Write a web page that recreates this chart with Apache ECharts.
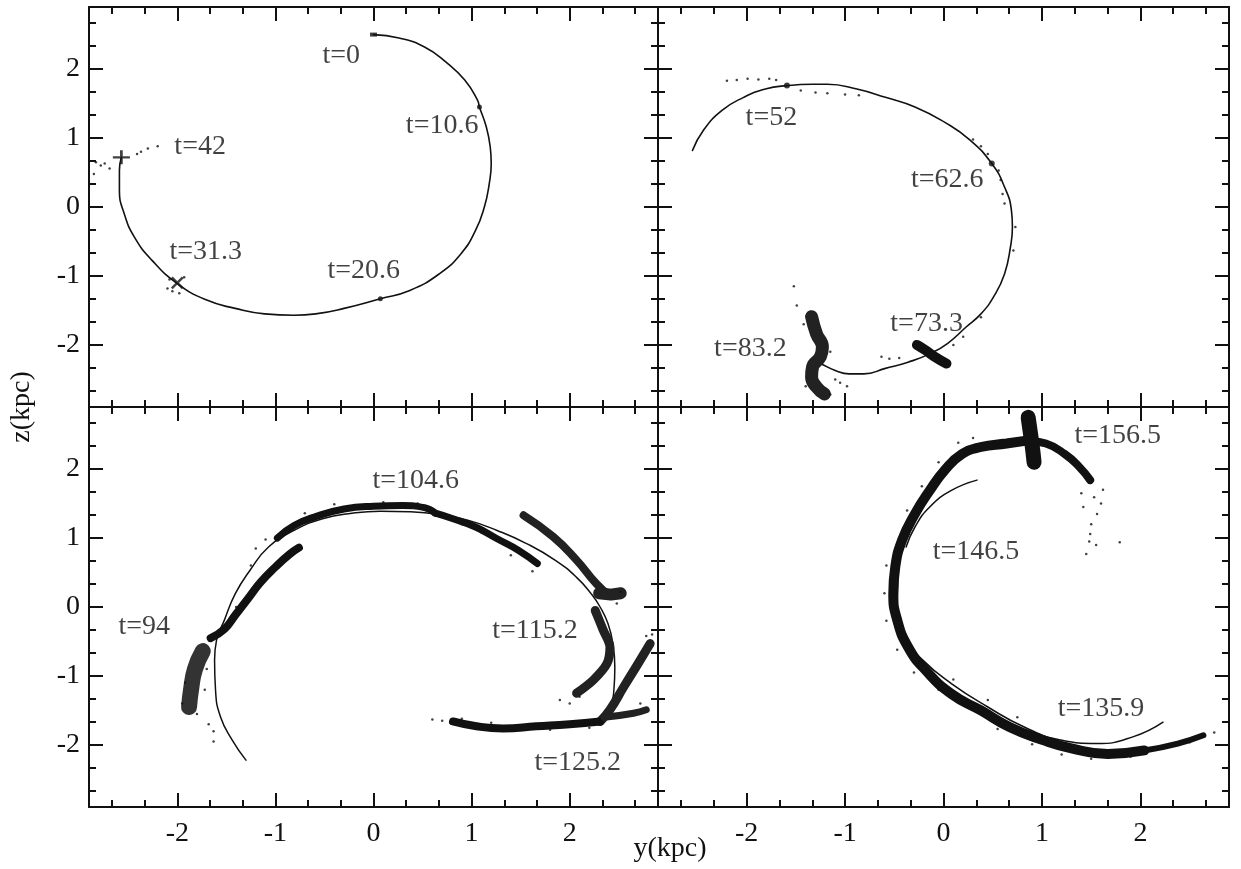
<!DOCTYPE html>
<html><head><meta charset="utf-8">
<script src="https://cdn.jsdelivr.net/npm/echarts@6/dist/echarts.min.js"></script>
<style>html,body{margin:0;padding:0;background:#fff}#c{width:1241px;height:869px}</style>
</head><body><div id="c"></div>
<script>
// ---------- tick labels / tick positions ----------
const majorTicks = [-2, -1, 0, 1, 2];
const minorTicks = [-2.667, -2.333, -1.667, -1.333, -0.667, -0.333, 0.333, 0.667, 1.333, 1.667, 2.333, 2.667];
const axisNameX = 'y(kpc)';
const axisNameY = 'z(kpc)';

// ---------- panel 1 (t = 0 .. 42) ----------
const orbit1 = [[0,2.50],[0.26,2.45],[0.52,2.32],[0.74,2.10],[0.93,1.84],[1.06,1.55],[1.08,1.45],[1.15,1.16],[1.19,0.87],[1.20,0.63],[1.18,0.34],[1.13,0],[1.04,-0.34],[0.89,-0.68],[0.67,-0.97],[0.37,-1.21],[0.07,-1.33],[-0.30,-1.47],[-0.59,-1.55],[-0.81,-1.57],[-1.11,-1.55],[-1.41,-1.47],[-1.70,-1.35],[-2.00,-1.11],[-2.26,-0.77],[-2.44,-0.43],[-2.54,-0.10],[-2.59,0.24],[-2.59,0.53],[-2.57,0.72]];
const dots1 = [[-2.83,0.65],[-2.74,0.63],[-2.69,0.56],[-2.85,0.48],[-2.78,0.60],[-2.41,0.77],[-2.37,0.80],[-2.30,0.85],[-2.20,0.88],[-2.05,-1.22],[-1.98,-1.25],[-1.93,-1.02],[-2.08,-1.05],[-2.10,-1.18]];
const markDots1 = [[1.08,1.45],[0.07,-1.33]];
const startMark1 = [[0,2.50]];
const crossMark1 = [[-2.0,-1.10]];
const plusMark1 = [[-2.57,0.72]];
const labels1 = [['t=0',-0.52,2.20],['t=10.6',0.33,1.18],['t=42',-2.03,0.87],['t=31.3',-2.08,-0.65],['t=20.6',-0.47,-0.92]];

// ---------- panel 2 (t = 52 .. 83.2) ----------
const orbit2 = [[-2.55,0.82],[-2.44,1.11],[-2.25,1.40],[-2.03,1.59],[-1.81,1.71],[-1.59,1.76],[-1.33,1.78],[-1.18,1.78],[-0.88,1.71],[-0.59,1.59],[-0.29,1.45],[0.01,1.23],[0.27,0.97],[0.49,0.63],[0.62,0.29],[0.69,-0.05],[0.70,-0.29],[0.68,-0.58],[0.62,-0.97],[0.51,-1.30],[0.38,-1.55],[0.23,-1.74],[0.04,-1.98],[-0.14,-2.13],[-0.36,-2.25],[-0.59,-2.34],[-0.81,-2.42],[-0.96,-2.42],[-1.10,-2.37],[-1.25,-2.27],[-1.33,-2.22]];
const blob73 = [[-0.27,-2.00],[-0.18,-2.08],[-0.09,-2.17],[0.03,-2.27]];
const blob83 = [[-1.34,-1.59],[-1.29,-1.84],[-1.23,-2.03],[-1.25,-2.17],[-1.33,-2.32],[-1.34,-2.46],[-1.29,-2.61],[-1.21,-2.71]];
const dots2 = [[-2.20,1.83],[-2.10,1.84],[-1.99,1.86],[-1.88,1.85],[-1.77,1.86],[-1.70,1.84],[-1.45,1.69],[-1.30,1.66],[-1.18,1.65],[-1.00,1.63],[-0.86,1.62],[0.30,0.98],[0.38,0.88],[0.45,0.77],[0.56,0.53],[0.58,0.39],[0.60,0.19],[0.62,0.05],[0.73,-0.29],[0.71,-0.63],[-1.52,-1.15],[-1.49,-1.43],[-0.63,-2.17],[-0.55,-2.20],[-0.45,-2.19],[0.10,-2.00],[0.20,-1.88],[0.38,-1.60],[-1.05,-2.55],[-0.98,-2.60],[-1.10,-2.50],[-1.42,-1.70],[-1.15,-2.10],[-1.40,-2.60],[-1.15,-2.72]];
const markDots2 = [[-1.59,1.76],[0.49,0.63]];
const labels2 = [['t=52',-2.01,1.30],['t=62.6',-0.33,0.40],['t=73.3',-0.54,-1.69],['t=83.2',-2.33,-2.05]];

// ---------- panel 3 (t = 94 .. 125.2) ----------
const orbit3 = [[-1.30,-2.22],[-1.44,-1.93],[-1.56,-1.59],[-1.61,-1.21],[-1.62,-0.77],[-1.60,-0.48],[-1.52,-0.19],[-1.41,0.19],[-1.26,0.53],[-1.07,0.87],[-0.81,1.11],[-0.52,1.28],[-0.22,1.36],[0.07,1.39],[0.37,1.38],[0.67,1.34],[0.96,1.26],[1.26,1.11],[1.56,0.92],[1.85,0.68],[2.07,0.43],[2.22,0.19],[2.31,0.0],[2.39,-0.24],[2.44,-0.53],[2.46,-0.87],[2.45,-1.21],[2.41,-1.50],[2.33,-1.67]];
const band3a = [[-1.88,-1.45],[-1.86,-1.20],[-1.82,-0.90],[-1.74,-0.64]];
const band3b = [[-1.66,-0.45],[-1.52,-0.32],[-1.41,-0.12],[-1.28,0.12],[-1.15,0.36],[-1.00,0.58],[-0.86,0.76],[-0.76,0.86]];
const band3c = [[-0.98,1.00],[-0.81,1.18],[-0.59,1.31],[-0.30,1.42],[0.00,1.46],[0.30,1.47],[0.52,1.44],[0.63,1.36]];
const band3d = [[0.63,1.36],[0.81,1.28],[1.04,1.16],[1.26,0.99],[1.48,0.82],[1.67,0.63]];
const band3e = [[1.53,1.33],[1.83,1.02],[2.07,0.68],[2.27,0.34],[2.40,0.17]];
const blob115 = [[2.30,0.20],[2.42,0.18],[2.52,0.20]];
const band3f = [[2.26,-0.05],[2.34,-0.33],[2.41,-0.58],[2.38,-0.82],[2.24,-1.06],[2.07,-1.25]];
const band3g = [[2.82,-0.53],[2.68,-0.86],[2.55,-1.16],[2.41,-1.49],[2.31,-1.66]];
const band3h = [[2.31,-1.66],[2.00,-1.70],[1.66,-1.73],[1.32,-1.76],[1.05,-1.73],[0.81,-1.66]];
const band3i = [[2.35,-1.60],[2.65,-1.54],[2.78,-1.49]];
const dots3 = [[-1.95,-1.40],[-1.80,-1.55],[-1.92,-1.10],[-1.70,-0.90],[-1.72,-1.20],[-1.63,-1.80],[-1.63,-1.95],[-1.68,-1.70],[-1.20,0.85],[-1.10,0.98],[-0.70,1.36],[-0.40,1.49],[0.10,1.52],[0.45,1.50],[0.90,1.20],[1.10,1.08],[1.40,0.75],[1.62,0.52],[2.10,-1.30],[2.00,-1.40],[1.90,-1.35],[0.60,-1.63],[0.70,-1.65],[0.90,-1.62],[1.20,-1.68],[1.80,-1.78],[2.20,-1.75],[2.52,0.22],[2.48,0.05],[2.84,-0.40],[2.78,-0.42],[2.72,-1.40],[-1.25,0.60],[-1.40,0.00]];
const labels3 = [['t=104.6',-0.01,1.83],['t=94',-2.60,-0.29],['t=115.2',1.21,-0.34],['t=125.2',1.64,-2.25]];

// ---------- panel 4 (t = 135.9 .. 156.5) ----------
const band4 = [[0.88,2.42],[0.64,2.37],[0.38,2.32],[0.19,2.22],[0.01,1.98],[-0.14,1.69],[-0.29,1.35],[-0.42,0.97],[-0.49,0.58],[-0.51,0.19],[-0.47,-0.19],[-0.36,-0.58],[-0.18,-0.92],[0.08,-1.26],[0.38,-1.50],[0.67,-1.74],[1.01,-1.93],[1.30,-2.05],[1.67,-2.13],[2.04,-2.08]];
const band4tail = [[2.04,-2.08],[2.38,-1.98],[2.64,-1.86]];
const blob156 = [[0.86,2.75],[0.88,2.55],[0.90,2.35],[0.92,2.10]];
const arm4 = [[0.90,2.40],[1.04,2.37],[1.23,2.22],[1.38,2.03],[1.49,1.84]];
const thin4 = [[2.23,-1.67],[1.93,-1.88],[1.56,-1.98],[1.19,-1.93],[0.82,-1.74],[0.45,-1.45],[0.08,-1.11],[-0.21,-0.77],[-0.40,-0.43],[-0.47,0.0],[-0.46,0.48]];
const inner4 = [[-0.38,0.87],[-0.29,1.16],[-0.14,1.45],[0.08,1.69],[0.34,1.84]];
const dots4 = [[1.53,1.59],[1.56,1.35],[1.49,1.06],[1.45,0.77],[1.79,0.94],[1.50,1.20],[1.60,1.50],[1.42,1.45],[1.55,0.90],[1.48,0.95],[1.40,1.65],[1.62,1.70],[0.30,2.45],[0.15,2.38],[-0.05,2.10],[-0.22,1.75],[-0.37,1.40],[-0.58,0.60],[-0.60,0.20],[-0.58,-0.20],[-0.47,-0.62],[-0.30,-0.95],[-0.05,-1.20],[0.25,-1.45],[0.55,-1.77],[0.90,-1.99],[1.20,-2.14],[1.50,-2.20],[1.90,-2.17],[2.50,-1.96],[2.75,-1.82],[-0.20,-0.85],[0.10,-1.05],[0.45,-1.35],[0.75,-1.60]];
const labels4 = [['t=156.5',1.33,2.49],['t=146.5',-0.11,0.80],['t=135.9',1.16,-1.47]];

// ---------- styling / layout ----------
const INK = '#111';
const FONT = '"Liberation Serif", "DejaVu Serif", serif';
const FS = 28;
const grids = [
  {left: 89, top: 7, width: 569, height: 400},
  {left: 658, top: 7, width: 571, height: 400},
  {left: 89, top: 407, width: 569, height: 400},
  {left: 658, top: 407, width: 571, height: 400}
];

function axis(g, pos, major, showLabels, isX) {
  const o = {
    type: 'value', gridIndex: g, position: pos, min: -2.9, max: 2.9,
    axisLine: {show: major, onZero: false, lineStyle: {color: INK, width: 2}},
    axisTick: {show: true, inside: true, length: major ? 14 : 7,
      customValues: major ? majorTicks : minorTicks, lineStyle: {color: INK, width: 2}},
    axisLabel: {show: false},
    splitLine: {show: false}
  };
  if (showLabels) {
    o.axisLabel = {show: true, customValues: majorTicks, fontFamily: FONT, fontSize: FS,
      color: INK, margin: isX ? 13 : 9};
  }
  return o;
}

const xAxes = [], yAxes = [];
for (let g = 0; g < 4; g++) {
  const bottomRow = g >= 2, leftCol = g % 2 === 0;
  xAxes.push(axis(g, 'bottom', true, bottomRow, true));
  xAxes.push(axis(g, 'bottom', false, false, true));
  xAxes.push(axis(g, 'top', true, false, true));
  xAxes.push(axis(g, 'top', false, false, true));
  yAxes.push(axis(g, 'left', true, leftCol, false));
  yAxes.push(axis(g, 'left', false, false, false));
  yAxes.push(axis(g, 'right', true, false, false));
  yAxes.push(axis(g, 'right', false, false, false));
}

function idx(g) { return {xAxisIndex: 4 * g, yAxisIndex: 4 * g}; }
function line(g, data, width, color, smooth) {
  return Object.assign({type: 'line', data: data, smooth: smooth === undefined ? true : smooth,
    showSymbol: false, symbol: 'none', silent: true, z: 3,
    lineStyle: {color: color || INK, width: width, cap: 'round', join: 'round'}}, idx(g));
}
function dots(g, data, size) {
  return Object.assign({type: 'scatter', data: data, symbol: 'circle', symbolSize: size || 2.5,
    silent: true, z: 4, itemStyle: {color: INK}}, idx(g));
}
function marks(g, data, symbol, size, stroke) {
  const s = Object.assign({type: 'scatter', data: data, symbol: symbol, symbolSize: size,
    silent: true, z: 5, itemStyle: {color: INK}}, idx(g));
  if (stroke) s.itemStyle = {color: 'rgba(0,0,0,0)', borderColor: INK, borderWidth: 2.5};
  return s;
}
function labels(g, arr) {
  return Object.assign({type: 'scatter', silent: true, z: 6, symbolSize: 0,
    data: arr.map(a => ({name: a[0], value: [a[1], a[2]]})),
    label: {show: true, position: 'right', distance: 0, formatter: '{b}',
      fontFamily: FONT, fontSize: FS, color: INK}}, idx(g));
}

const series = [
  // panel 1
  line(0, orbit1, 1.6),
  dots(0, dots1, 2.5),
  marks(0, markDots1, 'circle', 5),
  marks(0, startMark1, 'rect', [7, 4]),
  marks(0, crossMark1, 'path://M0,0L10,10M10,0L0,10', 11, true),
  marks(0, plusMark1, 'path://M5,0L5,10M0,5L10,5', [17, 14], true),
  labels(0, labels1),
  // panel 2
  line(1, orbit2, 1.6),
  line(1, blob73, 10),
  line(1, blob83, 13, '#222'),
  dots(1, dots2, 2.5),
  marks(1, markDots2, 'circle', 6),
  labels(1, labels2),
  // panel 3
  line(2, orbit3, 1.5),
  line(2, band3a, 16, '#333'),
  line(2, band3b, 8),
  line(2, band3c, 7),
  line(2, band3d, 7),
  line(2, band3e, 8, '#222'),
  line(2, blob115, 12, '#222', false),
  line(2, band3f, 9, '#222', 0.3),
  line(2, band3g, 9, '#222'),
  line(2, band3h, 8),
  line(2, band3i, 7, '#222'),
  dots(2, dots3, 2.5),
  labels(2, labels3),
  // panel 4
  line(3, band4, 10),
  line(3, band4tail, 6),
  line(3, blob156, 15),
  line(3, arm4, 8),
  line(3, thin4, 1.5),
  line(3, inner4, 1.5),
  dots(3, dots4, 2.5),
  labels(3, labels4)
];

const chart = echarts.init(document.getElementById('c'), null, {renderer: 'canvas'});
chart.setOption({
  backgroundColor: '#fff',
  animation: false,
  grid: grids.map(g => Object.assign({outerBoundsMode: 'none', containLabel: false}, g)),
  xAxis: xAxes,
  yAxis: yAxes,
  series: series,
  graphic: [
    {type: 'text', x: 22, y: 407, rotation: Math.PI / 2,
      style: {text: axisNameY, fontFamily: FONT, fontSize: FS, fill: INK,
        textAlign: 'center', textVerticalAlign: 'middle'}},
    {type: 'text', x: 670, y: 849,
      style: {text: axisNameX, fontFamily: FONT, fontSize: FS, fill: INK,
        textAlign: 'center', textVerticalAlign: 'middle'}}
  ]
});
</script>
</body></html>
